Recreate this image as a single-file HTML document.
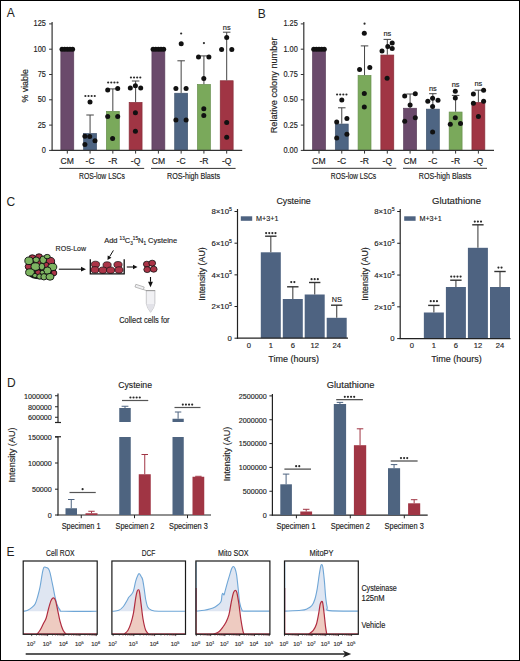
<!DOCTYPE html>
<html><head><meta charset="utf-8"><style>
html,body{margin:0;padding:0;background:#fff;}
#fig{position:relative;width:518px;height:659px;border:1px solid #000;overflow:hidden;background:#fff;}
svg{position:absolute;left:-1px;top:-1px;}
text{font-family:"Liberation Sans", sans-serif;stroke:#222;stroke-width:0.15px;}
</style></head><body><div id="fig">
<svg width="520" height="661" viewBox="0 0 520 661">
<rect x="60.85" y="49.55" width="12.90" height="100.85" fill="#6a4a6b" stroke="#5a3e5a" stroke-width="0.7"/>
<rect x="83.62" y="133.55" width="12.90" height="16.85" fill="#4e6583" stroke="#42556f" stroke-width="0.7"/>
<rect x="106.39" y="111.35" width="12.90" height="39.05" fill="#7aa95b" stroke="#678f4d" stroke-width="0.7"/>
<rect x="129.16" y="102.45" width="12.90" height="47.95" fill="#a03544" stroke="#882d39" stroke-width="0.7"/>
<rect x="151.93" y="49.55" width="12.90" height="100.85" fill="#6a4a6b" stroke="#5a3e5a" stroke-width="0.7"/>
<rect x="174.70" y="93.25" width="12.90" height="57.15" fill="#4e6583" stroke="#42556f" stroke-width="0.7"/>
<rect x="197.47" y="84.45" width="12.90" height="65.95" fill="#7aa95b" stroke="#678f4d" stroke-width="0.7"/>
<rect x="220.24" y="80.75" width="12.90" height="69.65" fill="#a03544" stroke="#882d39" stroke-width="0.7"/>
<line x1="90.07" y1="133.20" x2="90.07" y2="115.00" stroke="#444" stroke-width="1"/>
<line x1="86.32" y1="115.00" x2="93.82" y2="115.00" stroke="#444" stroke-width="1"/>
<line x1="112.84" y1="111.00" x2="112.84" y2="88.90" stroke="#444" stroke-width="1"/>
<line x1="109.09" y1="88.90" x2="116.59" y2="88.90" stroke="#444" stroke-width="1"/>
<line x1="135.61" y1="102.10" x2="135.61" y2="81.00" stroke="#444" stroke-width="1"/>
<line x1="131.86" y1="81.00" x2="139.36" y2="81.00" stroke="#444" stroke-width="1"/>
<line x1="181.15" y1="92.90" x2="181.15" y2="60.80" stroke="#444" stroke-width="1"/>
<line x1="177.40" y1="60.80" x2="184.90" y2="60.80" stroke="#444" stroke-width="1"/>
<line x1="203.92" y1="84.10" x2="203.92" y2="55.90" stroke="#444" stroke-width="1"/>
<line x1="200.17" y1="55.90" x2="207.67" y2="55.90" stroke="#444" stroke-width="1"/>
<line x1="226.69" y1="80.40" x2="226.69" y2="32.20" stroke="#444" stroke-width="1"/>
<line x1="222.94" y1="32.20" x2="230.44" y2="32.20" stroke="#444" stroke-width="1"/>
<circle cx="62.00" cy="49.30" r="2.5" fill="#111"/>
<circle cx="64.65" cy="49.30" r="2.5" fill="#111"/>
<circle cx="67.30" cy="49.30" r="2.5" fill="#111"/>
<circle cx="69.95" cy="49.30" r="2.5" fill="#111"/>
<circle cx="72.60" cy="49.30" r="2.5" fill="#111"/>
<circle cx="84.90" cy="136.20" r="2.5" fill="#111"/>
<circle cx="89.70" cy="136.60" r="2.5" fill="#111"/>
<circle cx="95.00" cy="140.80" r="2.5" fill="#111"/>
<circle cx="84.90" cy="144.60" r="2.5" fill="#111"/>
<circle cx="90.00" cy="102.00" r="2.5" fill="#111"/>
<circle cx="107.70" cy="90.10" r="2.5" fill="#111"/>
<circle cx="117.70" cy="88.50" r="2.5" fill="#111"/>
<circle cx="107.70" cy="116.50" r="2.5" fill="#111"/>
<circle cx="117.70" cy="116.50" r="2.5" fill="#111"/>
<circle cx="112.60" cy="138.50" r="2.5" fill="#111"/>
<circle cx="130.30" cy="87.90" r="2.5" fill="#111"/>
<circle cx="135.40" cy="85.70" r="2.5" fill="#111"/>
<circle cx="140.70" cy="87.90" r="2.5" fill="#111"/>
<circle cx="135.40" cy="112.70" r="2.5" fill="#111"/>
<circle cx="135.40" cy="131.20" r="2.5" fill="#111"/>
<circle cx="153.08" cy="49.30" r="2.5" fill="#111"/>
<circle cx="155.73" cy="49.30" r="2.5" fill="#111"/>
<circle cx="158.38" cy="49.30" r="2.5" fill="#111"/>
<circle cx="161.03" cy="49.30" r="2.5" fill="#111"/>
<circle cx="163.68" cy="49.30" r="2.5" fill="#111"/>
<circle cx="175.90" cy="88.40" r="2.5" fill="#111"/>
<circle cx="186.10" cy="88.40" r="2.5" fill="#111"/>
<circle cx="175.90" cy="119.90" r="2.5" fill="#111"/>
<circle cx="186.10" cy="119.90" r="2.5" fill="#111"/>
<circle cx="181.20" cy="43.70" r="2.5" fill="#111"/>
<circle cx="198.50" cy="56.90" r="2.5" fill="#111"/>
<circle cx="208.90" cy="56.90" r="2.5" fill="#111"/>
<circle cx="203.80" cy="78.50" r="2.5" fill="#111"/>
<circle cx="203.80" cy="108.70" r="2.5" fill="#111"/>
<circle cx="203.80" cy="115.60" r="2.5" fill="#111"/>
<circle cx="226.70" cy="37.60" r="2.5" fill="#111"/>
<circle cx="221.60" cy="49.60" r="2.5" fill="#111"/>
<circle cx="231.80" cy="49.60" r="2.5" fill="#111"/>
<circle cx="226.70" cy="122.40" r="2.5" fill="#111"/>
<circle cx="226.70" cy="137.30" r="2.5" fill="#111"/>
<line x1="52.10" y1="22.00" x2="52.10" y2="150.90" stroke="#333" stroke-width="1.2"/>
<line x1="51.50" y1="150.40" x2="242.20" y2="150.40" stroke="#333" stroke-width="1.2"/>
<line x1="49.10" y1="150.40" x2="52.10" y2="150.40" stroke="#333" stroke-width="1"/>
<text x="41.76" y="152.96" font-size="8.30" fill="#222" textLength="4.11" lengthAdjust="spacingAndGlyphs" >0</text>
<line x1="49.10" y1="125.10" x2="52.10" y2="125.10" stroke="#333" stroke-width="1"/>
<text x="37.70" y="127.66" font-size="8.30" fill="#222" textLength="8.22" lengthAdjust="spacingAndGlyphs" >25</text>
<line x1="49.10" y1="99.80" x2="52.10" y2="99.80" stroke="#333" stroke-width="1"/>
<text x="37.66" y="102.36" font-size="8.30" fill="#222" textLength="8.22" lengthAdjust="spacingAndGlyphs" >50</text>
<line x1="49.10" y1="74.50" x2="52.10" y2="74.50" stroke="#333" stroke-width="1"/>
<text x="37.70" y="77.02" font-size="8.30" fill="#222" textLength="8.22" lengthAdjust="spacingAndGlyphs" >75</text>
<line x1="49.10" y1="49.20" x2="52.10" y2="49.20" stroke="#333" stroke-width="1"/>
<text x="33.56" y="51.76" font-size="8.30" fill="#222" textLength="12.33" lengthAdjust="spacingAndGlyphs" >100</text>
<line x1="49.10" y1="23.90" x2="52.10" y2="23.90" stroke="#333" stroke-width="1"/>
<text x="33.60" y="26.46" font-size="8.30" fill="#222" textLength="12.33" lengthAdjust="spacingAndGlyphs" >125</text>
<line x1="67.30" y1="150.40" x2="67.30" y2="153.60" stroke="#333" stroke-width="1"/>
<line x1="90.07" y1="150.40" x2="90.07" y2="153.60" stroke="#333" stroke-width="1"/>
<line x1="112.84" y1="150.40" x2="112.84" y2="153.60" stroke="#333" stroke-width="1"/>
<line x1="135.61" y1="150.40" x2="135.61" y2="153.60" stroke="#333" stroke-width="1"/>
<line x1="158.38" y1="150.40" x2="158.38" y2="153.60" stroke="#333" stroke-width="1"/>
<line x1="181.15" y1="150.40" x2="181.15" y2="153.60" stroke="#333" stroke-width="1"/>
<line x1="203.92" y1="150.40" x2="203.92" y2="153.60" stroke="#333" stroke-width="1"/>
<line x1="226.69" y1="150.40" x2="226.69" y2="153.60" stroke="#333" stroke-width="1"/>
<text x="67.30" y="163.90" font-size="8.6" text-anchor="middle" fill="#222" >CM</text>
<text x="90.07" y="163.90" font-size="8.6" text-anchor="middle" fill="#222" >-C</text>
<text x="112.84" y="163.90" font-size="8.6" text-anchor="middle" fill="#222" >-R</text>
<text x="135.61" y="163.90" font-size="8.6" text-anchor="middle" fill="#222" >-Q</text>
<text x="158.38" y="163.90" font-size="8.6" text-anchor="middle" fill="#222" >CM</text>
<text x="181.15" y="163.90" font-size="8.6" text-anchor="middle" fill="#222" >-C</text>
<text x="203.92" y="163.90" font-size="8.6" text-anchor="middle" fill="#222" >-R</text>
<text x="226.69" y="163.90" font-size="8.6" text-anchor="middle" fill="#222" >-Q</text>
<line x1="59.40" y1="168.40" x2="144.20" y2="168.40" stroke="#333" stroke-width="1"/>
<text x="101.90" y="178.50" font-size="8.4" text-anchor="middle" fill="#222" textLength="45.8" lengthAdjust="spacingAndGlyphs">ROS-low LSCs</text>
<line x1="151.00" y1="168.40" x2="235.60" y2="168.40" stroke="#333" stroke-width="1"/>
<text x="193.50" y="178.50" font-size="8.4" text-anchor="middle" fill="#222" textLength="53.1" lengthAdjust="spacingAndGlyphs">ROS-high Blasts</text>
<circle cx="85.39" cy="96.00" r="1.08" fill="#2a2a2a"/>
<circle cx="88.51" cy="96.00" r="1.08" fill="#2a2a2a"/>
<circle cx="91.63" cy="96.00" r="1.08" fill="#2a2a2a"/>
<circle cx="94.75" cy="96.00" r="1.08" fill="#2a2a2a"/>
<circle cx="108.16" cy="82.50" r="1.08" fill="#2a2a2a"/>
<circle cx="111.28" cy="82.50" r="1.08" fill="#2a2a2a"/>
<circle cx="114.40" cy="82.50" r="1.08" fill="#2a2a2a"/>
<circle cx="117.52" cy="82.50" r="1.08" fill="#2a2a2a"/>
<circle cx="130.93" cy="77.50" r="1.08" fill="#2a2a2a"/>
<circle cx="134.05" cy="77.50" r="1.08" fill="#2a2a2a"/>
<circle cx="137.17" cy="77.50" r="1.08" fill="#2a2a2a"/>
<circle cx="140.29" cy="77.50" r="1.08" fill="#2a2a2a"/>
<circle cx="181.15" cy="33.50" r="1.08" fill="#2a2a2a"/>
<circle cx="203.92" cy="43.10" r="1.08" fill="#2a2a2a"/>
<text x="226.69" y="29.60" font-size="7.4" text-anchor="middle" fill="#222" >ns</text>
<text transform="translate(27.80,85.90) rotate(-90)" font-size="9" text-anchor="middle" fill="#222" textLength="33.4" lengthAdjust="spacingAndGlyphs">% viable</text>
<rect x="312.55" y="49.55" width="12.90" height="100.85" fill="#6a4a6b" stroke="#5a3e5a" stroke-width="0.7"/>
<rect x="335.32" y="124.05" width="12.90" height="26.35" fill="#4e6583" stroke="#42556f" stroke-width="0.7"/>
<rect x="358.09" y="75.45" width="12.90" height="74.95" fill="#7aa95b" stroke="#678f4d" stroke-width="0.7"/>
<rect x="380.86" y="55.05" width="12.90" height="95.35" fill="#a03544" stroke="#882d39" stroke-width="0.7"/>
<rect x="403.63" y="108.25" width="12.90" height="42.15" fill="#6a4a6b" stroke="#5a3e5a" stroke-width="0.7"/>
<rect x="426.40" y="109.15" width="12.90" height="41.25" fill="#4e6583" stroke="#42556f" stroke-width="0.7"/>
<rect x="449.17" y="112.05" width="12.90" height="38.35" fill="#7aa95b" stroke="#678f4d" stroke-width="0.7"/>
<rect x="471.94" y="102.45" width="12.90" height="47.95" fill="#a03544" stroke="#882d39" stroke-width="0.7"/>
<line x1="341.77" y1="123.70" x2="341.77" y2="107.80" stroke="#444" stroke-width="1"/>
<line x1="338.02" y1="107.80" x2="345.52" y2="107.80" stroke="#444" stroke-width="1"/>
<line x1="364.54" y1="75.10" x2="364.54" y2="45.90" stroke="#444" stroke-width="1"/>
<line x1="360.79" y1="45.90" x2="368.29" y2="45.90" stroke="#444" stroke-width="1"/>
<line x1="387.31" y1="54.70" x2="387.31" y2="39.40" stroke="#444" stroke-width="1"/>
<line x1="383.56" y1="39.40" x2="391.06" y2="39.40" stroke="#444" stroke-width="1"/>
<line x1="410.08" y1="107.90" x2="410.08" y2="94.00" stroke="#444" stroke-width="1"/>
<line x1="406.33" y1="94.00" x2="413.83" y2="94.00" stroke="#444" stroke-width="1"/>
<line x1="432.85" y1="108.80" x2="432.85" y2="93.70" stroke="#444" stroke-width="1"/>
<line x1="429.10" y1="93.70" x2="436.60" y2="93.70" stroke="#444" stroke-width="1"/>
<line x1="455.62" y1="111.70" x2="455.62" y2="95.40" stroke="#444" stroke-width="1"/>
<line x1="451.87" y1="95.40" x2="459.37" y2="95.40" stroke="#444" stroke-width="1"/>
<line x1="478.39" y1="102.10" x2="478.39" y2="90.20" stroke="#444" stroke-width="1"/>
<line x1="474.64" y1="90.20" x2="482.14" y2="90.20" stroke="#444" stroke-width="1"/>
<circle cx="313.70" cy="49.30" r="2.5" fill="#111"/>
<circle cx="316.35" cy="49.30" r="2.5" fill="#111"/>
<circle cx="319.00" cy="49.30" r="2.5" fill="#111"/>
<circle cx="321.65" cy="49.30" r="2.5" fill="#111"/>
<circle cx="324.30" cy="49.30" r="2.5" fill="#111"/>
<circle cx="341.80" cy="100.00" r="2.5" fill="#111"/>
<circle cx="336.70" cy="122.00" r="2.5" fill="#111"/>
<circle cx="346.90" cy="118.40" r="2.5" fill="#111"/>
<circle cx="346.90" cy="134.30" r="2.5" fill="#111"/>
<circle cx="336.70" cy="138.00" r="2.5" fill="#111"/>
<circle cx="364.30" cy="33.30" r="2.5" fill="#111"/>
<circle cx="359.60" cy="69.40" r="2.5" fill="#111"/>
<circle cx="369.80" cy="67.60" r="2.5" fill="#111"/>
<circle cx="364.30" cy="93.50" r="2.5" fill="#111"/>
<circle cx="364.30" cy="107.10" r="2.5" fill="#111"/>
<circle cx="382.00" cy="51.00" r="2.5" fill="#111"/>
<circle cx="387.80" cy="46.50" r="2.5" fill="#111"/>
<circle cx="392.20" cy="43.00" r="2.5" fill="#111"/>
<circle cx="392.20" cy="48.60" r="2.5" fill="#111"/>
<circle cx="387.10" cy="78.20" r="2.5" fill="#111"/>
<circle cx="404.70" cy="96.00" r="2.5" fill="#111"/>
<circle cx="415.30" cy="93.70" r="2.5" fill="#111"/>
<circle cx="410.10" cy="105.00" r="2.5" fill="#111"/>
<circle cx="404.70" cy="121.30" r="2.5" fill="#111"/>
<circle cx="415.30" cy="117.70" r="2.5" fill="#111"/>
<circle cx="427.80" cy="101.30" r="2.5" fill="#111"/>
<circle cx="432.60" cy="98.30" r="2.5" fill="#111"/>
<circle cx="438.00" cy="100.20" r="2.5" fill="#111"/>
<circle cx="432.60" cy="106.50" r="2.5" fill="#111"/>
<circle cx="432.60" cy="132.10" r="2.5" fill="#111"/>
<circle cx="455.30" cy="91.20" r="2.5" fill="#111"/>
<circle cx="455.30" cy="97.90" r="2.5" fill="#111"/>
<circle cx="455.30" cy="117.70" r="2.5" fill="#111"/>
<circle cx="450.30" cy="124.20" r="2.5" fill="#111"/>
<circle cx="460.50" cy="123.50" r="2.5" fill="#111"/>
<circle cx="473.40" cy="94.00" r="2.5" fill="#111"/>
<circle cx="483.60" cy="90.20" r="2.5" fill="#111"/>
<circle cx="473.40" cy="103.30" r="2.5" fill="#111"/>
<circle cx="483.60" cy="101.20" r="2.5" fill="#111"/>
<circle cx="478.40" cy="116.50" r="2.5" fill="#111"/>
<line x1="303.80" y1="22.00" x2="303.80" y2="150.90" stroke="#333" stroke-width="1.2"/>
<line x1="303.20" y1="150.40" x2="494.00" y2="150.40" stroke="#333" stroke-width="1.2"/>
<line x1="300.80" y1="150.40" x2="303.80" y2="150.40" stroke="#333" stroke-width="1"/>
<text x="283.39" y="152.96" font-size="8.30" fill="#222" textLength="14.38" lengthAdjust="spacingAndGlyphs" >0.00</text>
<line x1="300.80" y1="125.10" x2="303.80" y2="125.10" stroke="#333" stroke-width="1"/>
<text x="283.43" y="127.66" font-size="8.30" fill="#222" textLength="14.38" lengthAdjust="spacingAndGlyphs" >0.25</text>
<line x1="300.80" y1="99.80" x2="303.80" y2="99.80" stroke="#333" stroke-width="1"/>
<text x="283.39" y="102.36" font-size="8.30" fill="#222" textLength="14.38" lengthAdjust="spacingAndGlyphs" >0.50</text>
<line x1="300.80" y1="74.50" x2="303.80" y2="74.50" stroke="#333" stroke-width="1"/>
<text x="283.43" y="77.06" font-size="8.30" fill="#222" textLength="14.38" lengthAdjust="spacingAndGlyphs" >0.75</text>
<line x1="300.80" y1="49.20" x2="303.80" y2="49.20" stroke="#333" stroke-width="1"/>
<text x="283.39" y="51.76" font-size="8.30" fill="#222" textLength="14.38" lengthAdjust="spacingAndGlyphs" >1.00</text>
<line x1="300.80" y1="23.90" x2="303.80" y2="23.90" stroke="#333" stroke-width="1"/>
<text x="283.43" y="26.46" font-size="8.30" fill="#222" textLength="14.38" lengthAdjust="spacingAndGlyphs" >1.25</text>
<line x1="319.00" y1="150.40" x2="319.00" y2="153.60" stroke="#333" stroke-width="1"/>
<line x1="341.77" y1="150.40" x2="341.77" y2="153.60" stroke="#333" stroke-width="1"/>
<line x1="364.54" y1="150.40" x2="364.54" y2="153.60" stroke="#333" stroke-width="1"/>
<line x1="387.31" y1="150.40" x2="387.31" y2="153.60" stroke="#333" stroke-width="1"/>
<line x1="410.08" y1="150.40" x2="410.08" y2="153.60" stroke="#333" stroke-width="1"/>
<line x1="432.85" y1="150.40" x2="432.85" y2="153.60" stroke="#333" stroke-width="1"/>
<line x1="455.62" y1="150.40" x2="455.62" y2="153.60" stroke="#333" stroke-width="1"/>
<line x1="478.39" y1="150.40" x2="478.39" y2="153.60" stroke="#333" stroke-width="1"/>
<text x="319.00" y="163.90" font-size="8.6" text-anchor="middle" fill="#222" >CM</text>
<text x="341.77" y="163.90" font-size="8.6" text-anchor="middle" fill="#222" >-C</text>
<text x="364.54" y="163.90" font-size="8.6" text-anchor="middle" fill="#222" >-R</text>
<text x="387.31" y="163.90" font-size="8.6" text-anchor="middle" fill="#222" >-Q</text>
<text x="410.08" y="163.90" font-size="8.6" text-anchor="middle" fill="#222" >CM</text>
<text x="432.85" y="163.90" font-size="8.6" text-anchor="middle" fill="#222" >-C</text>
<text x="455.62" y="163.90" font-size="8.6" text-anchor="middle" fill="#222" >-R</text>
<text x="478.39" y="163.90" font-size="8.6" text-anchor="middle" fill="#222" >-Q</text>
<line x1="311.60" y1="168.30" x2="396.30" y2="168.30" stroke="#333" stroke-width="1"/>
<text x="353.50" y="178.50" font-size="8.4" text-anchor="middle" fill="#222" textLength="45.5" lengthAdjust="spacingAndGlyphs">ROS-low LSCs</text>
<line x1="403.00" y1="168.30" x2="487.00" y2="168.30" stroke="#333" stroke-width="1"/>
<text x="445.00" y="178.50" font-size="8.4" text-anchor="middle" fill="#222" textLength="52.5" lengthAdjust="spacingAndGlyphs">ROS-high Blasts</text>
<circle cx="337.09" cy="94.50" r="1.08" fill="#2a2a2a"/>
<circle cx="340.21" cy="94.50" r="1.08" fill="#2a2a2a"/>
<circle cx="343.33" cy="94.50" r="1.08" fill="#2a2a2a"/>
<circle cx="346.45" cy="94.50" r="1.08" fill="#2a2a2a"/>
<circle cx="364.54" cy="23.70" r="1.08" fill="#2a2a2a"/>
<text x="387.31" y="36.30" font-size="7.4" text-anchor="middle" fill="#222" >ns</text>
<text x="432.85" y="91.20" font-size="7.4" text-anchor="middle" fill="#222" >ns</text>
<text x="455.62" y="86.90" font-size="7.4" text-anchor="middle" fill="#222" >ns</text>
<text x="478.39" y="85.80" font-size="7.4" text-anchor="middle" fill="#222" >ns</text>
<text transform="translate(277.00,85.40) rotate(-90)" font-size="9" text-anchor="middle" fill="#222" textLength="95.7" lengthAdjust="spacingAndGlyphs">Relative colony number</text>
<path d="M27.5,259.5 Q31,256 40,256 Q49,255.5 53,259 Q56,263 56,270 Q56,276 51.5,278.8 Q44,280 36,279 Q28.5,278 26.5,272 Q25.5,265 27.5,259.5 Z" fill="#1a1a1a"/>
<ellipse cx="32.30" cy="257.60" rx="3.4" ry="2.8" fill="#ab3447" stroke="#111" stroke-width="0.9"/>
<ellipse cx="39.00" cy="256.40" rx="3.4" ry="2.6" fill="#ab3447" stroke="#111" stroke-width="0.9"/>
<ellipse cx="38.10" cy="261.60" rx="4.4" ry="2.8" fill="#ab3447" stroke="#111" stroke-width="0.9"/>
<ellipse cx="50.40" cy="261.40" rx="4.2" ry="4.0" fill="#ab3447" stroke="#111" stroke-width="0.9"/>
<ellipse cx="28.60" cy="266.60" rx="3.4" ry="3.2" fill="#ab3447" stroke="#111" stroke-width="0.9"/>
<ellipse cx="46.20" cy="265.00" rx="2.8" ry="2.6" fill="#ab3447" stroke="#111" stroke-width="0.9"/>
<ellipse cx="38.50" cy="272.70" rx="3.2" ry="2.8" fill="#ab3447" stroke="#111" stroke-width="0.9"/>
<ellipse cx="54.00" cy="273.00" rx="2.8" ry="2.8" fill="#ab3447" stroke="#111" stroke-width="0.9"/>
<ellipse cx="29.00" cy="260.80" rx="4.2" ry="3.8" fill="#7db461" stroke="#111" stroke-width="0.9"/>
<ellipse cx="36.20" cy="259.80" rx="3.2" ry="2.8" fill="#7db461" stroke="#111" stroke-width="0.9"/>
<ellipse cx="43.20" cy="259.80" rx="3.4" ry="3.8" fill="#7db461" stroke="#111" stroke-width="0.9"/>
<ellipse cx="47.20" cy="256.60" rx="3.0" ry="2.2" fill="#7db461" stroke="#111" stroke-width="0.9"/>
<ellipse cx="35.40" cy="266.60" rx="4.4" ry="3.8" fill="#7db461" stroke="#111" stroke-width="0.9"/>
<ellipse cx="41.90" cy="266.60" rx="2.8" ry="3.4" fill="#7db461" stroke="#111" stroke-width="0.9"/>
<ellipse cx="52.40" cy="267.00" rx="4.4" ry="3.6" fill="#7db461" stroke="#111" stroke-width="0.9"/>
<ellipse cx="30.00" cy="272.40" rx="4.4" ry="3.6" fill="#7db461" stroke="#111" stroke-width="0.9"/>
<ellipse cx="47.40" cy="270.60" rx="3.8" ry="3.6" fill="#7db461" stroke="#111" stroke-width="0.9"/>
<ellipse cx="42.30" cy="272.40" rx="2.2" ry="2.0" fill="#7db461" stroke="#111" stroke-width="0.9"/>
<ellipse cx="35.00" cy="275.60" rx="2.4" ry="2.2" fill="#7db461" stroke="#111" stroke-width="0.9"/>
<ellipse cx="39.60" cy="276.50" rx="2.8" ry="2.6" fill="#7db461" stroke="#111" stroke-width="0.9"/>
<ellipse cx="43.90" cy="276.80" rx="3.0" ry="3.2" fill="#7db461" stroke="#111" stroke-width="0.9"/>
<ellipse cx="50.00" cy="276.80" rx="4.0" ry="3.4" fill="#7db461" stroke="#111" stroke-width="0.9"/>
<line x1="58.80" y1="269.20" x2="81.00" y2="269.20" stroke="#111" stroke-width="1.1"/>
<polygon points="86.00,269.20 81.00,271.60 81.00,266.80" fill="#111"/>
<text x="55.60" y="251.00" font-size="8" text-anchor="start" fill="#222" textLength="30.5" lengthAdjust="spacingAndGlyphs">ROS-Low</text>
<ellipse cx="95.50" cy="264.40" rx="4.1" ry="3.2" fill="#ab3447" stroke="#111" stroke-width="0.7"/>
<ellipse cx="107.10" cy="265.00" rx="4.1" ry="3.2" fill="#ab3447" stroke="#111" stroke-width="0.7"/>
<ellipse cx="118.00" cy="264.70" rx="4.1" ry="3.2" fill="#ab3447" stroke="#111" stroke-width="0.7"/>
<ellipse cx="95.00" cy="269.80" rx="4.1" ry="3.2" fill="#ab3447" stroke="#111" stroke-width="0.7"/>
<ellipse cx="102.90" cy="270.20" rx="4.1" ry="3.2" fill="#ab3447" stroke="#111" stroke-width="0.7"/>
<ellipse cx="110.60" cy="270.20" rx="4.1" ry="3.2" fill="#ab3447" stroke="#111" stroke-width="0.7"/>
<ellipse cx="119.00" cy="270.00" rx="4.1" ry="3.2" fill="#ab3447" stroke="#111" stroke-width="0.7"/>
<polyline points="90.3,259.2 90.3,273.8 124.2,273.8 124.2,259.2" fill="none" stroke="#111" stroke-width="1.3"/>
<line x1="113.40" y1="250.40" x2="109.58" y2="256.68" stroke="#111" stroke-width="1.0"/>
<polygon points="107.50,260.10 107.70,255.54 111.46,257.83" fill="#111"/>
<line x1="126.80" y1="267.00" x2="133.00" y2="267.00" stroke="#111" stroke-width="1.1"/>
<polygon points="137.50,267.00 133.00,269.20 133.00,264.80" fill="#111"/>
<ellipse cx="146.80" cy="264.20" rx="3.4" ry="3.0" fill="#ab3447" stroke="#111" stroke-width="0.8"/>
<ellipse cx="152.20" cy="263.20" rx="3.4" ry="3.0" fill="#ab3447" stroke="#111" stroke-width="0.8"/>
<ellipse cx="147.20" cy="269.60" rx="3.4" ry="3.0" fill="#ab3447" stroke="#111" stroke-width="0.8"/>
<ellipse cx="153.70" cy="269.20" rx="3.4" ry="3.0" fill="#ab3447" stroke="#111" stroke-width="0.8"/>
<line x1="150.50" y1="277.00" x2="150.50" y2="281.80" stroke="#111" stroke-width="1.1"/>
<polygon points="150.50,287.30 148.10,281.80 152.90,281.80" fill="#111"/>
<path d="M146.3,290.6 L154.9,290.6 L154.9,303.5 Q154.2,308 150.6,312.3 Q147.0,308 146.3,303.5 Z" fill="#f1f1f4" stroke="#b4b4b8" stroke-width="0.7"/>
<path d="M146.6,304 L154.6,304 Q153.8,308.5 150.6,312 Q147.4,308.5 146.6,304 Z" fill="#e2e2e8"/>
<line x1="146" y1="290.6" x2="155.2" y2="290.6" stroke="#999" stroke-width="1"/>
<rect x="135.2" y="285.6" width="8.8" height="2.8" fill="#f0f0f2" stroke="#999" stroke-width="0.6" transform="rotate(18 139.6 287)"/>
<line x1="143.6" y1="289.6" x2="146.3" y2="290.6" stroke="#999" stroke-width="0.7"/>
<text x="104.20" y="243.30" font-size="8" text-anchor="start" fill="#222" textLength="73" lengthAdjust="spacingAndGlyphs">Add <tspan font-size="5" dy="-3">13</tspan><tspan dy="3">C</tspan><tspan font-size="5" dy="2">3</tspan><tspan font-size="5" dy="-5">15</tspan><tspan dy="3">N</tspan><tspan font-size="5" dy="2">1</tspan><tspan dy="-2"> Cysteine</tspan></text>
<text x="119.20" y="322.80" font-size="9" text-anchor="start" fill="#222" textLength="50.4" lengthAdjust="spacingAndGlyphs">Collect cells for</text>
<rect x="260.80" y="252.30" width="20.00" height="85.90" fill="#4e6381"/>
<rect x="282.80" y="299.00" width="20.00" height="39.20" fill="#4e6381"/>
<rect x="304.70" y="294.50" width="20.00" height="43.70" fill="#4e6381"/>
<rect x="326.70" y="317.80" width="20.00" height="20.40" fill="#4e6381"/>
<line x1="270.80" y1="252.30" x2="270.80" y2="236.20" stroke="#555" stroke-width="1.2"/>
<line x1="265.10" y1="236.20" x2="276.50" y2="236.20" stroke="#333" stroke-width="1.4"/>
<line x1="292.80" y1="299.00" x2="292.80" y2="286.80" stroke="#555" stroke-width="1.2"/>
<line x1="287.10" y1="286.80" x2="298.50" y2="286.80" stroke="#333" stroke-width="1.4"/>
<line x1="314.70" y1="294.50" x2="314.70" y2="282.50" stroke="#555" stroke-width="1.2"/>
<line x1="309.00" y1="282.50" x2="320.40" y2="282.50" stroke="#333" stroke-width="1.4"/>
<line x1="336.70" y1="317.80" x2="336.70" y2="305.20" stroke="#555" stroke-width="1.2"/>
<line x1="331.00" y1="305.20" x2="342.40" y2="305.20" stroke="#333" stroke-width="1.4"/>
<line x1="237.50" y1="209.00" x2="237.50" y2="338.70" stroke="#222" stroke-width="1.2"/>
<line x1="236.90" y1="338.20" x2="348.00" y2="338.20" stroke="#222" stroke-width="1.2"/>
<line x1="234.50" y1="338.20" x2="237.50" y2="338.20" stroke="#222" stroke-width="1"/>
<text x="231.90" y="340.95" font-size="7.8" text-anchor="end" fill="#222" >0</text>
<line x1="234.50" y1="306.52" x2="237.50" y2="306.52" stroke="#222" stroke-width="1"/>
<text x="231.90" y="309.27" font-size="7.8" text-anchor="end" fill="#222" >2×10<tspan font-size="5.2" dy="-3.3">5</tspan></text>
<line x1="234.50" y1="274.85" x2="237.50" y2="274.85" stroke="#222" stroke-width="1"/>
<text x="231.90" y="277.60" font-size="7.8" text-anchor="end" fill="#222" >4×10<tspan font-size="5.2" dy="-3.3">5</tspan></text>
<line x1="234.50" y1="243.18" x2="237.50" y2="243.18" stroke="#222" stroke-width="1"/>
<text x="231.90" y="245.93" font-size="7.8" text-anchor="end" fill="#222" >6×10<tspan font-size="5.2" dy="-3.3">5</tspan></text>
<line x1="234.50" y1="211.50" x2="237.50" y2="211.50" stroke="#222" stroke-width="1"/>
<text x="231.90" y="214.25" font-size="7.8" text-anchor="end" fill="#222" >8×10<tspan font-size="5.2" dy="-3.3">5</tspan></text>
<text x="248.80" y="348.40" font-size="7.6" text-anchor="middle" fill="#222" >0</text>
<text x="270.80" y="348.40" font-size="7.6" text-anchor="middle" fill="#222" >1</text>
<text x="292.80" y="348.40" font-size="7.6" text-anchor="middle" fill="#222" >6</text>
<text x="314.70" y="348.40" font-size="7.6" text-anchor="middle" fill="#222" >12</text>
<text x="336.70" y="348.40" font-size="7.6" text-anchor="middle" fill="#222" >24</text>
<text x="293.60" y="362.30" font-size="9" text-anchor="middle" fill="#222" >Time (hours)</text>
<text x="293.60" y="203.60" font-size="9.8" text-anchor="middle" fill="#222" textLength="34.3" lengthAdjust="spacingAndGlyphs">Cysteine</text>
<rect x="240.80" y="216.30" width="11.40" height="4.50" fill="#4e6381"/>
<text x="256.00" y="220.90" font-size="7.2" text-anchor="start" fill="#222" >M+3+1</text>
<circle cx="266.12" cy="233.10" r="1.08" fill="#2a2a2a"/>
<circle cx="269.24" cy="233.10" r="1.08" fill="#2a2a2a"/>
<circle cx="272.36" cy="233.10" r="1.08" fill="#2a2a2a"/>
<circle cx="275.48" cy="233.10" r="1.08" fill="#2a2a2a"/>
<circle cx="291.24" cy="282.10" r="1.08" fill="#2a2a2a"/>
<circle cx="294.36" cy="282.10" r="1.08" fill="#2a2a2a"/>
<circle cx="311.58" cy="279.20" r="1.08" fill="#2a2a2a"/>
<circle cx="314.70" cy="279.20" r="1.08" fill="#2a2a2a"/>
<circle cx="317.82" cy="279.20" r="1.08" fill="#2a2a2a"/>
<text x="336.70" y="302.30" font-size="7.2" text-anchor="middle" fill="#222" >NS</text>
<text transform="translate(205.20,274.0) rotate(-90)" font-size="9" text-anchor="middle" fill="#222" textLength="53.4" lengthAdjust="spacingAndGlyphs">Intensity (AU)</text>
<rect x="423.85" y="312.50" width="20.00" height="26.10" fill="#4e6381"/>
<rect x="445.90" y="287.00" width="20.00" height="51.60" fill="#4e6381"/>
<rect x="467.90" y="247.80" width="20.00" height="90.80" fill="#4e6381"/>
<rect x="490.00" y="287.00" width="20.00" height="51.60" fill="#4e6381"/>
<line x1="433.85" y1="312.50" x2="433.85" y2="305.40" stroke="#555" stroke-width="1.2"/>
<line x1="428.15" y1="305.40" x2="439.55" y2="305.40" stroke="#333" stroke-width="1.4"/>
<line x1="455.90" y1="287.00" x2="455.90" y2="280.20" stroke="#555" stroke-width="1.2"/>
<line x1="450.20" y1="280.20" x2="461.60" y2="280.20" stroke="#333" stroke-width="1.4"/>
<line x1="477.90" y1="247.80" x2="477.90" y2="224.80" stroke="#555" stroke-width="1.2"/>
<line x1="472.20" y1="224.80" x2="483.60" y2="224.80" stroke="#333" stroke-width="1.4"/>
<line x1="500.00" y1="287.00" x2="500.00" y2="271.50" stroke="#555" stroke-width="1.2"/>
<line x1="494.30" y1="271.50" x2="505.70" y2="271.50" stroke="#333" stroke-width="1.4"/>
<line x1="400.20" y1="209.00" x2="400.20" y2="339.10" stroke="#222" stroke-width="1.2"/>
<line x1="399.60" y1="338.60" x2="510.50" y2="338.60" stroke="#222" stroke-width="1.2"/>
<line x1="397.20" y1="338.60" x2="400.20" y2="338.60" stroke="#222" stroke-width="1"/>
<text x="394.60" y="341.35" font-size="7.8" text-anchor="end" fill="#222" >0</text>
<line x1="397.20" y1="306.83" x2="400.20" y2="306.83" stroke="#222" stroke-width="1"/>
<text x="394.60" y="309.58" font-size="7.8" text-anchor="end" fill="#222" >2×10<tspan font-size="5.2" dy="-3.3">5</tspan></text>
<line x1="397.20" y1="275.05" x2="400.20" y2="275.05" stroke="#222" stroke-width="1"/>
<text x="394.60" y="277.80" font-size="7.8" text-anchor="end" fill="#222" >4×10<tspan font-size="5.2" dy="-3.3">5</tspan></text>
<line x1="397.20" y1="243.28" x2="400.20" y2="243.28" stroke="#222" stroke-width="1"/>
<text x="394.60" y="246.03" font-size="7.8" text-anchor="end" fill="#222" >6×10<tspan font-size="5.2" dy="-3.3">5</tspan></text>
<line x1="397.20" y1="211.50" x2="400.20" y2="211.50" stroke="#222" stroke-width="1"/>
<text x="394.60" y="214.25" font-size="7.8" text-anchor="end" fill="#222" >8×10<tspan font-size="5.2" dy="-3.3">5</tspan></text>
<text x="411.80" y="348.40" font-size="7.6" text-anchor="middle" fill="#222" >0</text>
<text x="433.85" y="348.40" font-size="7.6" text-anchor="middle" fill="#222" >1</text>
<text x="455.90" y="348.40" font-size="7.6" text-anchor="middle" fill="#222" >6</text>
<text x="477.90" y="348.40" font-size="7.6" text-anchor="middle" fill="#222" >12</text>
<text x="500.00" y="348.40" font-size="7.6" text-anchor="middle" fill="#222" >24</text>
<text x="456.50" y="362.30" font-size="9" text-anchor="middle" fill="#222" >Time (hours)</text>
<text x="456.50" y="203.60" font-size="9.8" text-anchor="middle" fill="#222" textLength="49.0" lengthAdjust="spacingAndGlyphs">Glutathione</text>
<rect x="404.20" y="216.30" width="11.40" height="4.50" fill="#4e6381"/>
<text x="419.40" y="220.90" font-size="7.2" text-anchor="start" fill="#222" >M+3+1</text>
<circle cx="430.73" cy="301.20" r="1.08" fill="#2a2a2a"/>
<circle cx="433.85" cy="301.20" r="1.08" fill="#2a2a2a"/>
<circle cx="436.97" cy="301.20" r="1.08" fill="#2a2a2a"/>
<circle cx="451.22" cy="276.60" r="1.08" fill="#2a2a2a"/>
<circle cx="454.34" cy="276.60" r="1.08" fill="#2a2a2a"/>
<circle cx="457.46" cy="276.60" r="1.08" fill="#2a2a2a"/>
<circle cx="460.58" cy="276.60" r="1.08" fill="#2a2a2a"/>
<circle cx="474.78" cy="221.60" r="1.08" fill="#2a2a2a"/>
<circle cx="477.90" cy="221.60" r="1.08" fill="#2a2a2a"/>
<circle cx="481.02" cy="221.60" r="1.08" fill="#2a2a2a"/>
<circle cx="498.44" cy="267.60" r="1.08" fill="#2a2a2a"/>
<circle cx="501.56" cy="267.60" r="1.08" fill="#2a2a2a"/>
<text transform="translate(367.90,274.0) rotate(-90)" font-size="9" text-anchor="middle" fill="#222" textLength="53.4" lengthAdjust="spacingAndGlyphs">Intensity (AU)</text>
<line x1="58.00" y1="393.60" x2="58.00" y2="422.50" stroke="#222" stroke-width="1.2"/>
<line x1="55.00" y1="422.50" x2="61.00" y2="422.50" stroke="#222" stroke-width="1.2"/>
<line x1="55.00" y1="395.75" x2="58.00" y2="395.75" stroke="#222" stroke-width="1"/>
<text x="23.94" y="398.54" font-size="7.80" fill="#222" textLength="27.94" lengthAdjust="spacingAndGlyphs" >1000000</text>
<line x1="55.00" y1="406.75" x2="58.00" y2="406.75" stroke="#222" stroke-width="1"/>
<text x="27.92" y="409.54" font-size="7.80" fill="#222" textLength="23.95" lengthAdjust="spacingAndGlyphs" >800000</text>
<line x1="55.00" y1="417.25" x2="58.00" y2="417.25" stroke="#222" stroke-width="1"/>
<text x="27.92" y="420.04" font-size="7.80" fill="#222" textLength="23.95" lengthAdjust="spacingAndGlyphs" >600000</text>
<line x1="58.00" y1="436.75" x2="58.00" y2="515.50" stroke="#222" stroke-width="1.2"/>
<line x1="55.00" y1="436.75" x2="61.00" y2="436.75" stroke="#222" stroke-width="1.2"/>
<line x1="55.00" y1="437.00" x2="58.00" y2="437.00" stroke="#222" stroke-width="1"/>
<text x="27.92" y="439.79" font-size="7.80" fill="#222" textLength="23.95" lengthAdjust="spacingAndGlyphs" >150000</text>
<line x1="55.00" y1="463.00" x2="58.00" y2="463.00" stroke="#222" stroke-width="1"/>
<text x="27.92" y="465.79" font-size="7.80" fill="#222" textLength="23.95" lengthAdjust="spacingAndGlyphs" >100000</text>
<line x1="55.00" y1="489.20" x2="58.00" y2="489.20" stroke="#222" stroke-width="1"/>
<text x="31.90" y="491.99" font-size="7.80" fill="#222" textLength="19.96" lengthAdjust="spacingAndGlyphs" >50000</text>
<line x1="55.00" y1="515.00" x2="58.00" y2="515.00" stroke="#222" stroke-width="1"/>
<text x="47.87" y="517.79" font-size="7.80" fill="#222" textLength="3.99" lengthAdjust="spacingAndGlyphs" >0</text>
<line x1="57.40" y1="515.00" x2="211.00" y2="515.00" stroke="#222" stroke-width="1.2"/>
<rect x="65.50" y="508.25" width="11.50" height="6.75" fill="#4e6480"/>
<line x1="71.25" y1="508.25" x2="71.25" y2="499.50" stroke="#4e6480" stroke-width="1"/>
<line x1="68.00" y1="499.50" x2="74.50" y2="499.50" stroke="#4e6480" stroke-width="1"/>
<rect x="85.50" y="513.25" width="12.00" height="1.75" fill="#a03544"/>
<line x1="91.50" y1="513.25" x2="91.50" y2="511.25" stroke="#a03544" stroke-width="1"/>
<line x1="88.30" y1="511.25" x2="94.70" y2="511.25" stroke="#a03544" stroke-width="1"/>
<line x1="69.50" y1="492.50" x2="95.75" y2="492.50" stroke="#555" stroke-width="1.2"/>
<circle cx="82.60" cy="489.20" r="1.08" fill="#2a2a2a"/>
<rect x="119.25" y="408.00" width="11.50" height="14.00" fill="#4e6480"/>
<rect x="119.25" y="437.00" width="11.50" height="78.00" fill="#4e6480"/>
<line x1="125.00" y1="408.00" x2="125.00" y2="406.25" stroke="#4e6480" stroke-width="1"/>
<line x1="121.60" y1="406.25" x2="128.40" y2="406.25" stroke="#4e6480" stroke-width="1"/>
<rect x="138.75" y="474.25" width="12.00" height="40.75" fill="#a03544"/>
<line x1="144.75" y1="474.25" x2="144.75" y2="454.50" stroke="#a03544" stroke-width="1"/>
<line x1="141.50" y1="454.50" x2="148.00" y2="454.50" stroke="#a03544" stroke-width="1"/>
<line x1="122.00" y1="400.50" x2="148.25" y2="400.50" stroke="#555" stroke-width="1.2"/>
<circle cx="130.42" cy="397.50" r="1.08" fill="#2a2a2a"/>
<circle cx="133.54" cy="397.50" r="1.08" fill="#2a2a2a"/>
<circle cx="136.66" cy="397.50" r="1.08" fill="#2a2a2a"/>
<circle cx="139.78" cy="397.50" r="1.08" fill="#2a2a2a"/>
<rect x="172.50" y="418.75" width="11.25" height="3.25" fill="#4e6480"/>
<rect x="172.50" y="437.00" width="11.25" height="78.00" fill="#4e6480"/>
<line x1="178.10" y1="418.75" x2="178.10" y2="412.00" stroke="#4e6480" stroke-width="1"/>
<line x1="174.90" y1="412.00" x2="181.30" y2="412.00" stroke="#4e6480" stroke-width="1"/>
<rect x="192.50" y="476.75" width="11.75" height="38.25" fill="#a03544"/>
<line x1="195.20" y1="476.30" x2="201.60" y2="476.30" stroke="#a03544" stroke-width="1"/>
<line x1="174.50" y1="407.50" x2="200.50" y2="407.50" stroke="#555" stroke-width="1.2"/>
<circle cx="182.82" cy="404.60" r="1.08" fill="#2a2a2a"/>
<circle cx="185.94" cy="404.60" r="1.08" fill="#2a2a2a"/>
<circle cx="189.06" cy="404.60" r="1.08" fill="#2a2a2a"/>
<circle cx="192.18" cy="404.60" r="1.08" fill="#2a2a2a"/>
<line x1="81.25" y1="515.00" x2="81.25" y2="518.20" stroke="#222" stroke-width="1"/>
<line x1="134.50" y1="515.00" x2="134.50" y2="518.20" stroke="#222" stroke-width="1"/>
<line x1="187.50" y1="515.00" x2="187.50" y2="518.20" stroke="#222" stroke-width="1"/>
<text x="81.10" y="528.70" font-size="8.2" text-anchor="middle" fill="#222" textLength="38.8" lengthAdjust="spacingAndGlyphs">Specimen 1</text>
<text x="135.00" y="528.70" font-size="8.2" text-anchor="middle" fill="#222" textLength="38.8" lengthAdjust="spacingAndGlyphs">Specimen 2</text>
<text x="188.40" y="528.70" font-size="8.2" text-anchor="middle" fill="#222" textLength="38.8" lengthAdjust="spacingAndGlyphs">Specimen 3</text>
<text x="135.10" y="387.80" font-size="9.8" text-anchor="middle" fill="#222" textLength="33.8" lengthAdjust="spacingAndGlyphs">Cysteine</text>
<text transform="translate(15.0,455.0) rotate(-90)" font-size="9" text-anchor="middle" fill="#222" textLength="55" lengthAdjust="spacingAndGlyphs">Intensity (AU)</text>
<line x1="272.40" y1="394.00" x2="272.40" y2="515.60" stroke="#222" stroke-width="1.2"/>
<line x1="271.80" y1="515.10" x2="427.70" y2="515.10" stroke="#222" stroke-width="1.2"/>
<line x1="269.40" y1="515.10" x2="272.40" y2="515.10" stroke="#222" stroke-width="1"/>
<text x="262.77" y="517.89" font-size="7.80" fill="#222" textLength="3.99" lengthAdjust="spacingAndGlyphs" >0</text>
<line x1="269.40" y1="491.26" x2="272.40" y2="491.26" stroke="#222" stroke-width="1"/>
<text x="242.82" y="494.05" font-size="7.80" fill="#222" textLength="23.95" lengthAdjust="spacingAndGlyphs" >500000</text>
<line x1="269.40" y1="467.42" x2="272.40" y2="467.42" stroke="#222" stroke-width="1"/>
<text x="238.84" y="470.21" font-size="7.80" fill="#222" textLength="27.94" lengthAdjust="spacingAndGlyphs" >1000000</text>
<line x1="269.40" y1="443.58" x2="272.40" y2="443.58" stroke="#222" stroke-width="1"/>
<text x="238.84" y="446.37" font-size="7.80" fill="#222" textLength="27.94" lengthAdjust="spacingAndGlyphs" >1500000</text>
<line x1="269.40" y1="419.74" x2="272.40" y2="419.74" stroke="#222" stroke-width="1"/>
<text x="238.84" y="422.53" font-size="7.80" fill="#222" textLength="27.94" lengthAdjust="spacingAndGlyphs" >2000000</text>
<line x1="269.40" y1="395.90" x2="272.40" y2="395.90" stroke="#222" stroke-width="1"/>
<text x="238.84" y="398.69" font-size="7.80" fill="#222" textLength="27.94" lengthAdjust="spacingAndGlyphs" >2500000</text>
<rect x="280.30" y="484.30" width="11.60" height="30.80" fill="#4e6480"/>
<line x1="286.10" y1="484.30" x2="286.10" y2="474.10" stroke="#4e6480" stroke-width="1"/>
<line x1="282.85" y1="474.10" x2="289.35" y2="474.10" stroke="#4e6480" stroke-width="1"/>
<rect x="300.30" y="511.50" width="11.80" height="3.60" fill="#a03544"/>
<line x1="306.20" y1="511.50" x2="306.20" y2="509.30" stroke="#a03544" stroke-width="1"/>
<line x1="302.95" y1="509.30" x2="309.45" y2="509.30" stroke="#a03544" stroke-width="1"/>
<rect x="333.80" y="404.00" width="12.30" height="111.10" fill="#4e6480"/>
<line x1="339.95" y1="404.00" x2="339.95" y2="402.40" stroke="#4e6480" stroke-width="1"/>
<line x1="336.70" y1="402.40" x2="343.20" y2="402.40" stroke="#4e6480" stroke-width="1"/>
<rect x="353.90" y="445.20" width="12.30" height="69.90" fill="#a03544"/>
<line x1="360.05" y1="445.20" x2="360.05" y2="428.80" stroke="#a03544" stroke-width="1"/>
<line x1="356.80" y1="428.80" x2="363.30" y2="428.80" stroke="#a03544" stroke-width="1"/>
<rect x="388.00" y="468.20" width="12.10" height="46.90" fill="#4e6480"/>
<line x1="394.05" y1="468.20" x2="394.05" y2="464.60" stroke="#4e6480" stroke-width="1"/>
<line x1="390.80" y1="464.60" x2="397.30" y2="464.60" stroke="#4e6480" stroke-width="1"/>
<rect x="408.10" y="503.30" width="12.10" height="11.80" fill="#a03544"/>
<line x1="414.15" y1="503.30" x2="414.15" y2="499.70" stroke="#a03544" stroke-width="1"/>
<line x1="410.90" y1="499.70" x2="417.40" y2="499.70" stroke="#a03544" stroke-width="1"/>
<line x1="284.40" y1="469.10" x2="311.00" y2="469.10" stroke="#333" stroke-width="1.1"/>
<circle cx="296.14" cy="466.20" r="1.08" fill="#2a2a2a"/>
<circle cx="299.26" cy="466.20" r="1.08" fill="#2a2a2a"/>
<line x1="336.20" y1="399.70" x2="362.90" y2="399.70" stroke="#333" stroke-width="1.1"/>
<circle cx="344.82" cy="396.80" r="1.08" fill="#2a2a2a"/>
<circle cx="347.94" cy="396.80" r="1.08" fill="#2a2a2a"/>
<circle cx="351.06" cy="396.80" r="1.08" fill="#2a2a2a"/>
<circle cx="354.18" cy="396.80" r="1.08" fill="#2a2a2a"/>
<line x1="390.70" y1="461.00" x2="417.60" y2="461.00" stroke="#333" stroke-width="1.1"/>
<circle cx="400.98" cy="458.10" r="1.08" fill="#2a2a2a"/>
<circle cx="404.10" cy="458.10" r="1.08" fill="#2a2a2a"/>
<circle cx="407.22" cy="458.10" r="1.08" fill="#2a2a2a"/>
<line x1="296.40" y1="515.10" x2="296.40" y2="518.30" stroke="#222" stroke-width="1"/>
<line x1="350.30" y1="515.10" x2="350.30" y2="518.30" stroke="#222" stroke-width="1"/>
<line x1="404.30" y1="515.10" x2="404.30" y2="518.30" stroke="#222" stroke-width="1"/>
<text x="296.10" y="528.50" font-size="8.2" text-anchor="middle" fill="#222" textLength="39.2" lengthAdjust="spacingAndGlyphs">Specimen 1</text>
<text x="350.40" y="528.50" font-size="8.2" text-anchor="middle" fill="#222" textLength="39.2" lengthAdjust="spacingAndGlyphs">Specimen 2</text>
<text x="404.20" y="528.50" font-size="8.2" text-anchor="middle" fill="#222" textLength="39.2" lengthAdjust="spacingAndGlyphs">Specimen 3</text>
<text x="350.65" y="387.80" font-size="9.8" text-anchor="middle" fill="#222" textLength="47.7" lengthAdjust="spacingAndGlyphs">Glutathione</text>
<text transform="translate(230.4,453.9) rotate(-90)" font-size="9" text-anchor="middle" fill="#222" textLength="54.5" lengthAdjust="spacingAndGlyphs">Intensity (AU)</text>
<path d="M23.60,611.30 C24.28,611.13 26.25,610.98 27.70,610.30 C29.15,609.62 31.02,608.35 32.30,607.20 C33.58,606.05 34.50,605.18 35.40,603.40 C36.30,601.62 36.93,599.20 37.70,596.50 C38.47,593.80 39.23,591.05 40.00,587.20 C40.77,583.35 41.67,576.68 42.30,573.40 C42.93,570.12 43.15,568.48 43.80,567.50 C44.45,566.52 45.42,567.28 46.20,567.50 C46.98,567.72 47.87,567.95 48.50,568.80 C49.13,569.65 49.50,570.82 50.00,572.60 C50.50,574.38 50.98,577.07 51.50,579.50 C52.02,581.93 52.58,584.63 53.10,587.20 C53.62,589.77 53.97,592.07 54.60,594.90 C55.23,597.73 56.00,601.68 56.90,604.20 C57.80,606.72 58.85,608.82 60.00,610.00 C61.15,611.18 57.70,611.08 63.80,611.30 C69.90,611.52 91.13,611.30 96.60,611.30 L96.60,611.3 L23.60,611.3 Z" fill="#c9d6ea" fill-opacity="0.6"/>
<path d="M23.60,611.30 C24.28,611.13 26.25,610.98 27.70,610.30 C29.15,609.62 31.02,608.35 32.30,607.20 C33.58,606.05 34.50,605.18 35.40,603.40 C36.30,601.62 36.93,599.20 37.70,596.50 C38.47,593.80 39.23,591.05 40.00,587.20 C40.77,583.35 41.67,576.68 42.30,573.40 C42.93,570.12 43.15,568.48 43.80,567.50 C44.45,566.52 45.42,567.28 46.20,567.50 C46.98,567.72 47.87,567.95 48.50,568.80 C49.13,569.65 49.50,570.82 50.00,572.60 C50.50,574.38 50.98,577.07 51.50,579.50 C52.02,581.93 52.58,584.63 53.10,587.20 C53.62,589.77 53.97,592.07 54.60,594.90 C55.23,597.73 56.00,601.68 56.90,604.20 C57.80,606.72 58.85,608.82 60.00,610.00 C61.15,611.18 57.70,611.08 63.80,611.30 C69.90,611.52 91.13,611.30 96.60,611.30" fill="none" stroke="#6fa6d6" stroke-width="1.1"/>
<path d="M36.90,634.20 C37.42,633.55 38.97,631.97 40.00,630.30 C41.03,628.63 42.07,626.25 43.10,624.20 C44.13,622.15 45.30,620.57 46.20,618.00 C47.10,615.43 47.73,611.62 48.50,608.80 C49.27,605.98 50.12,602.85 50.80,601.10 C51.48,599.35 52.03,598.77 52.60,598.30 C53.17,597.83 53.68,597.83 54.20,598.30 C54.72,598.77 55.12,599.10 55.70,601.10 C56.28,603.10 56.98,606.97 57.70,610.30 C58.42,613.63 59.10,617.77 60.00,621.10 C60.90,624.43 62.07,628.12 63.10,630.30 C64.13,632.48 65.68,633.55 66.20,634.20 L66.20,634.3 L36.90,634.3 Z" fill="#ebc2b6" fill-opacity="0.85"/>
<path d="M36.90,634.20 C37.42,633.55 38.97,631.97 40.00,630.30 C41.03,628.63 42.07,626.25 43.10,624.20 C44.13,622.15 45.30,620.57 46.20,618.00 C47.10,615.43 47.73,611.62 48.50,608.80 C49.27,605.98 50.12,602.85 50.80,601.10 C51.48,599.35 52.03,598.77 52.60,598.30 C53.17,597.83 53.68,597.83 54.20,598.30 C54.72,598.77 55.12,599.10 55.70,601.10 C56.28,603.10 56.98,606.97 57.70,610.30 C58.42,613.63 59.10,617.77 60.00,621.10 C60.90,624.43 62.07,628.12 63.10,630.30 C64.13,632.48 65.68,633.55 66.20,634.20" fill="none" stroke="#b02c40" stroke-width="1.2"/>
<line x1="23.20" y1="633.70" x2="97.20" y2="633.70" stroke="#b02c40" stroke-width="0.8"/>
<rect x="23.20" y="561.00" width="74.00" height="73.30" fill="none" stroke="#1a1a1a" stroke-width="1.2"/>
<line x1="36.49" y1="634.30" x2="36.49" y2="635.70" stroke="#333" stroke-width="0.6"/>
<line x1="39.29" y1="634.30" x2="39.29" y2="635.70" stroke="#8a2a38" stroke-width="0.6"/>
<line x1="41.27" y1="634.30" x2="41.27" y2="635.70" stroke="#333" stroke-width="0.6"/>
<line x1="42.81" y1="634.30" x2="42.81" y2="635.70" stroke="#8a2a38" stroke-width="0.6"/>
<line x1="44.07" y1="634.30" x2="44.07" y2="635.70" stroke="#333" stroke-width="0.6"/>
<line x1="45.14" y1="634.30" x2="45.14" y2="635.70" stroke="#8a2a38" stroke-width="0.6"/>
<line x1="46.06" y1="634.30" x2="46.06" y2="635.70" stroke="#333" stroke-width="0.6"/>
<line x1="46.87" y1="634.30" x2="46.87" y2="635.70" stroke="#8a2a38" stroke-width="0.6"/>
<line x1="52.51" y1="634.30" x2="52.51" y2="635.70" stroke="#333" stroke-width="0.6"/>
<line x1="55.38" y1="634.30" x2="55.38" y2="635.70" stroke="#8a2a38" stroke-width="0.6"/>
<line x1="57.41" y1="634.30" x2="57.41" y2="635.70" stroke="#333" stroke-width="0.6"/>
<line x1="58.99" y1="634.30" x2="58.99" y2="635.70" stroke="#8a2a38" stroke-width="0.6"/>
<line x1="60.28" y1="634.30" x2="60.28" y2="635.70" stroke="#333" stroke-width="0.6"/>
<line x1="61.38" y1="634.30" x2="61.38" y2="635.70" stroke="#8a2a38" stroke-width="0.6"/>
<line x1="62.32" y1="634.30" x2="62.32" y2="635.70" stroke="#333" stroke-width="0.6"/>
<line x1="63.15" y1="634.30" x2="63.15" y2="635.70" stroke="#8a2a38" stroke-width="0.6"/>
<line x1="68.75" y1="634.30" x2="68.75" y2="635.70" stroke="#333" stroke-width="0.6"/>
<line x1="71.58" y1="634.30" x2="71.58" y2="635.70" stroke="#8a2a38" stroke-width="0.6"/>
<line x1="73.59" y1="634.30" x2="73.59" y2="635.70" stroke="#333" stroke-width="0.6"/>
<line x1="75.15" y1="634.30" x2="75.15" y2="635.70" stroke="#8a2a38" stroke-width="0.6"/>
<line x1="76.43" y1="634.30" x2="76.43" y2="635.70" stroke="#333" stroke-width="0.6"/>
<line x1="77.51" y1="634.30" x2="77.51" y2="635.70" stroke="#8a2a38" stroke-width="0.6"/>
<line x1="78.44" y1="634.30" x2="78.44" y2="635.70" stroke="#333" stroke-width="0.6"/>
<line x1="79.26" y1="634.30" x2="79.26" y2="635.70" stroke="#8a2a38" stroke-width="0.6"/>
<line x1="84.91" y1="634.30" x2="84.91" y2="635.70" stroke="#333" stroke-width="0.6"/>
<line x1="87.78" y1="634.30" x2="87.78" y2="635.70" stroke="#8a2a38" stroke-width="0.6"/>
<line x1="89.81" y1="634.30" x2="89.81" y2="635.70" stroke="#333" stroke-width="0.6"/>
<line x1="91.39" y1="634.30" x2="91.39" y2="635.70" stroke="#8a2a38" stroke-width="0.6"/>
<line x1="92.68" y1="634.30" x2="92.68" y2="635.70" stroke="#333" stroke-width="0.6"/>
<line x1="93.78" y1="634.30" x2="93.78" y2="635.70" stroke="#8a2a38" stroke-width="0.6"/>
<line x1="94.72" y1="634.30" x2="94.72" y2="635.70" stroke="#333" stroke-width="0.6"/>
<line x1="95.55" y1="634.30" x2="95.55" y2="635.70" stroke="#8a2a38" stroke-width="0.6"/>
<line x1="31.70" y1="634.30" x2="31.70" y2="636.10" stroke="#222" stroke-width="0.8"/>
<text x="31.10" y="646.30" font-size="5.9" text-anchor="middle" fill="#3a3a3a" >10<tspan font-size="3.8" dy="-2.6">2</tspan></text>
<line x1="47.60" y1="634.30" x2="47.60" y2="636.10" stroke="#222" stroke-width="0.8"/>
<text x="47.00" y="646.30" font-size="5.9" text-anchor="middle" fill="#3a3a3a" >10<tspan font-size="3.8" dy="-2.6">3</tspan></text>
<line x1="63.90" y1="634.30" x2="63.90" y2="636.10" stroke="#222" stroke-width="0.8"/>
<text x="63.30" y="646.30" font-size="5.9" text-anchor="middle" fill="#3a3a3a" >10<tspan font-size="3.8" dy="-2.6">4</tspan></text>
<line x1="80.00" y1="634.30" x2="80.00" y2="636.10" stroke="#222" stroke-width="0.8"/>
<text x="79.40" y="646.30" font-size="5.9" text-anchor="middle" fill="#3a3a3a" >10<tspan font-size="3.8" dy="-2.6">5</tspan></text>
<line x1="96.30" y1="634.30" x2="96.30" y2="636.10" stroke="#222" stroke-width="0.8"/>
<text x="95.70" y="646.30" font-size="5.9" text-anchor="middle" fill="#3a3a3a" >10<tspan font-size="3.8" dy="-2.6">6</tspan></text>
<text x="60.30" y="555.70" font-size="9.2" text-anchor="middle" fill="#222" textLength="28.4" lengthAdjust="spacingAndGlyphs">Cell ROX</text>
<path d="M112.40,611.30 C113.47,611.13 116.97,611.10 118.80,610.30 C120.63,609.50 122.00,608.17 123.40,606.50 C124.80,604.83 126.30,601.85 127.20,600.30 C128.10,598.75 128.15,598.10 128.80,597.20 C129.45,596.30 130.33,595.92 131.10,594.90 C131.87,593.88 132.63,593.40 133.40,591.10 C134.17,588.80 134.93,583.80 135.70,581.10 C136.47,578.40 137.37,576.12 138.00,574.90 C138.63,573.68 138.98,573.53 139.50,573.80 C140.02,574.07 140.58,575.55 141.10,576.50 C141.62,577.45 142.08,577.45 142.60,579.50 C143.12,581.55 143.68,585.47 144.20,588.80 C144.72,592.13 145.12,596.48 145.70,599.50 C146.28,602.52 146.80,605.15 147.70,606.90 C148.60,608.65 149.25,609.28 151.10,610.00 C152.95,610.72 153.17,610.98 158.80,611.20 C164.43,611.42 180.55,611.28 184.90,611.30 L184.90,611.3 L112.40,611.3 Z" fill="#c9d6ea" fill-opacity="0.6"/>
<path d="M112.40,611.30 C113.47,611.13 116.97,611.10 118.80,610.30 C120.63,609.50 122.00,608.17 123.40,606.50 C124.80,604.83 126.30,601.85 127.20,600.30 C128.10,598.75 128.15,598.10 128.80,597.20 C129.45,596.30 130.33,595.92 131.10,594.90 C131.87,593.88 132.63,593.40 133.40,591.10 C134.17,588.80 134.93,583.80 135.70,581.10 C136.47,578.40 137.37,576.12 138.00,574.90 C138.63,573.68 138.98,573.53 139.50,573.80 C140.02,574.07 140.58,575.55 141.10,576.50 C141.62,577.45 142.08,577.45 142.60,579.50 C143.12,581.55 143.68,585.47 144.20,588.80 C144.72,592.13 145.12,596.48 145.70,599.50 C146.28,602.52 146.80,605.15 147.70,606.90 C148.60,608.65 149.25,609.28 151.10,610.00 C152.95,610.72 153.17,610.98 158.80,611.20 C164.43,611.42 180.55,611.28 184.90,611.30" fill="none" stroke="#6fa6d6" stroke-width="1.1"/>
<path d="M124.20,634.20 C124.83,633.55 126.85,632.23 128.00,630.30 C129.15,628.37 130.20,625.42 131.10,622.60 C132.00,619.78 132.63,617.50 133.40,613.40 C134.17,609.30 135.07,601.72 135.70,598.00 C136.33,594.28 136.73,592.47 137.20,591.10 C137.67,589.73 138.12,589.68 138.50,589.80 C138.88,589.92 139.07,589.40 139.50,591.80 C139.93,594.20 140.50,599.58 141.10,604.20 C141.70,608.82 142.33,615.15 143.10,619.50 C143.87,623.85 144.75,627.85 145.70,630.30 C146.65,632.75 148.28,633.55 148.80,634.20 L148.80,634.3 L124.20,634.3 Z" fill="#ebc2b6" fill-opacity="0.85"/>
<path d="M124.20,634.20 C124.83,633.55 126.85,632.23 128.00,630.30 C129.15,628.37 130.20,625.42 131.10,622.60 C132.00,619.78 132.63,617.50 133.40,613.40 C134.17,609.30 135.07,601.72 135.70,598.00 C136.33,594.28 136.73,592.47 137.20,591.10 C137.67,589.73 138.12,589.68 138.50,589.80 C138.88,589.92 139.07,589.40 139.50,591.80 C139.93,594.20 140.50,599.58 141.10,604.20 C141.70,608.82 142.33,615.15 143.10,619.50 C143.87,623.85 144.75,627.85 145.70,630.30 C146.65,632.75 148.28,633.55 148.80,634.20" fill="none" stroke="#b02c40" stroke-width="1.2"/>
<line x1="111.90" y1="633.70" x2="185.50" y2="633.70" stroke="#b02c40" stroke-width="0.8"/>
<rect x="111.90" y="561.00" width="73.60" height="73.30" fill="none" stroke="#1a1a1a" stroke-width="1.2"/>
<line x1="119.33" y1="634.30" x2="119.33" y2="635.70" stroke="#333" stroke-width="0.6"/>
<line x1="122.98" y1="634.30" x2="122.98" y2="635.70" stroke="#8a2a38" stroke-width="0.6"/>
<line x1="125.56" y1="634.30" x2="125.56" y2="635.70" stroke="#333" stroke-width="0.6"/>
<line x1="127.57" y1="634.30" x2="127.57" y2="635.70" stroke="#8a2a38" stroke-width="0.6"/>
<line x1="129.21" y1="634.30" x2="129.21" y2="635.70" stroke="#333" stroke-width="0.6"/>
<line x1="130.59" y1="634.30" x2="130.59" y2="635.70" stroke="#8a2a38" stroke-width="0.6"/>
<line x1="131.79" y1="634.30" x2="131.79" y2="635.70" stroke="#333" stroke-width="0.6"/>
<line x1="132.85" y1="634.30" x2="132.85" y2="635.70" stroke="#8a2a38" stroke-width="0.6"/>
<line x1="140.06" y1="634.30" x2="140.06" y2="635.70" stroke="#333" stroke-width="0.6"/>
<line x1="143.72" y1="634.30" x2="143.72" y2="635.70" stroke="#8a2a38" stroke-width="0.6"/>
<line x1="146.32" y1="634.30" x2="146.32" y2="635.70" stroke="#333" stroke-width="0.6"/>
<line x1="148.34" y1="634.30" x2="148.34" y2="635.70" stroke="#8a2a38" stroke-width="0.6"/>
<line x1="149.99" y1="634.30" x2="149.99" y2="635.70" stroke="#333" stroke-width="0.6"/>
<line x1="151.38" y1="634.30" x2="151.38" y2="635.70" stroke="#8a2a38" stroke-width="0.6"/>
<line x1="152.58" y1="634.30" x2="152.58" y2="635.70" stroke="#333" stroke-width="0.6"/>
<line x1="153.65" y1="634.30" x2="153.65" y2="635.70" stroke="#8a2a38" stroke-width="0.6"/>
<line x1="160.95" y1="634.30" x2="160.95" y2="635.70" stroke="#333" stroke-width="0.6"/>
<line x1="164.67" y1="634.30" x2="164.67" y2="635.70" stroke="#8a2a38" stroke-width="0.6"/>
<line x1="167.30" y1="634.30" x2="167.30" y2="635.70" stroke="#333" stroke-width="0.6"/>
<line x1="169.35" y1="634.30" x2="169.35" y2="635.70" stroke="#8a2a38" stroke-width="0.6"/>
<line x1="171.02" y1="634.30" x2="171.02" y2="635.70" stroke="#333" stroke-width="0.6"/>
<line x1="172.43" y1="634.30" x2="172.43" y2="635.70" stroke="#8a2a38" stroke-width="0.6"/>
<line x1="173.66" y1="634.30" x2="173.66" y2="635.70" stroke="#333" stroke-width="0.6"/>
<line x1="174.73" y1="634.30" x2="174.73" y2="635.70" stroke="#8a2a38" stroke-width="0.6"/>
<line x1="113.10" y1="634.30" x2="113.10" y2="636.10" stroke="#222" stroke-width="0.8"/>
<text x="112.50" y="646.30" font-size="5.9" text-anchor="middle" fill="#3a3a3a" >10<tspan font-size="3.8" dy="-2.6">2</tspan></text>
<line x1="133.80" y1="634.30" x2="133.80" y2="636.10" stroke="#222" stroke-width="0.8"/>
<text x="133.20" y="646.30" font-size="5.9" text-anchor="middle" fill="#3a3a3a" >10<tspan font-size="3.8" dy="-2.6">3</tspan></text>
<line x1="154.60" y1="634.30" x2="154.60" y2="636.10" stroke="#222" stroke-width="0.8"/>
<text x="154.00" y="646.30" font-size="5.9" text-anchor="middle" fill="#3a3a3a" >10<tspan font-size="3.8" dy="-2.6">4</tspan></text>
<line x1="175.70" y1="634.30" x2="175.70" y2="636.10" stroke="#222" stroke-width="0.8"/>
<text x="175.10" y="646.30" font-size="5.9" text-anchor="middle" fill="#3a3a3a" >10<tspan font-size="3.8" dy="-2.6">5</tspan></text>
<text x="148.60" y="555.70" font-size="9.2" text-anchor="middle" fill="#222" textLength="13.5" lengthAdjust="spacingAndGlyphs">DCF</text>
<path d="M196.40,611.10 C197.72,610.97 201.95,610.68 204.30,610.30 C206.65,609.92 208.70,609.37 210.50,608.80 C212.30,608.23 213.70,607.67 215.10,606.90 C216.50,606.13 217.88,605.17 218.90,604.20 C219.92,603.23 220.68,602.65 221.20,601.10 C221.72,599.55 221.73,596.18 222.00,594.90 C222.27,593.62 222.47,593.40 222.80,593.40 C223.13,593.40 223.62,595.28 224.00,594.90 C224.38,594.52 224.53,593.15 225.10,591.10 C225.67,589.05 226.63,585.30 227.40,582.60 C228.17,579.90 228.98,577.25 229.70,574.90 C230.42,572.55 231.07,569.90 231.70,568.50 C232.33,567.10 232.93,566.45 233.50,566.50 C234.07,566.55 234.58,567.40 235.10,568.80 C235.62,570.20 236.08,571.57 236.60,574.90 C237.12,578.23 237.68,584.18 238.20,588.80 C238.72,593.42 239.07,599.07 239.70,602.60 C240.33,606.13 241.23,608.58 242.00,610.00 C242.77,611.42 239.75,610.92 244.30,611.10 C248.85,611.28 265.13,611.10 269.30,611.10 L269.30,611.3 L196.40,611.3 Z" fill="#c9d6ea" fill-opacity="0.6"/>
<path d="M196.40,611.10 C197.72,610.97 201.95,610.68 204.30,610.30 C206.65,609.92 208.70,609.37 210.50,608.80 C212.30,608.23 213.70,607.67 215.10,606.90 C216.50,606.13 217.88,605.17 218.90,604.20 C219.92,603.23 220.68,602.65 221.20,601.10 C221.72,599.55 221.73,596.18 222.00,594.90 C222.27,593.62 222.47,593.40 222.80,593.40 C223.13,593.40 223.62,595.28 224.00,594.90 C224.38,594.52 224.53,593.15 225.10,591.10 C225.67,589.05 226.63,585.30 227.40,582.60 C228.17,579.90 228.98,577.25 229.70,574.90 C230.42,572.55 231.07,569.90 231.70,568.50 C232.33,567.10 232.93,566.45 233.50,566.50 C234.07,566.55 234.58,567.40 235.10,568.80 C235.62,570.20 236.08,571.57 236.60,574.90 C237.12,578.23 237.68,584.18 238.20,588.80 C238.72,593.42 239.07,599.07 239.70,602.60 C240.33,606.13 241.23,608.58 242.00,610.00 C242.77,611.42 239.75,610.92 244.30,611.10 C248.85,611.28 265.13,611.10 269.30,611.10" fill="none" stroke="#6fa6d6" stroke-width="1.1"/>
<path d="M213.50,634.20 C214.40,633.80 217.35,632.97 218.90,631.80 C220.45,630.63 221.65,628.73 222.80,627.20 C223.95,625.67 224.78,624.65 225.80,622.60 C226.82,620.55 228.00,618.23 228.90,614.90 C229.80,611.57 230.43,606.32 231.20,602.60 C231.97,598.88 232.80,594.65 233.50,592.60 C234.20,590.55 234.83,590.30 235.40,590.30 C235.97,590.30 236.32,590.28 236.90,592.60 C237.48,594.92 238.23,599.72 238.90,604.20 C239.57,608.68 240.25,615.15 240.90,619.50 C241.55,623.85 242.28,627.85 242.80,630.30 C243.32,632.75 243.80,633.55 244.00,634.20 L244.00,634.3 L213.50,634.3 Z" fill="#ebc2b6" fill-opacity="0.85"/>
<path d="M213.50,634.20 C214.40,633.80 217.35,632.97 218.90,631.80 C220.45,630.63 221.65,628.73 222.80,627.20 C223.95,625.67 224.78,624.65 225.80,622.60 C226.82,620.55 228.00,618.23 228.90,614.90 C229.80,611.57 230.43,606.32 231.20,602.60 C231.97,598.88 232.80,594.65 233.50,592.60 C234.20,590.55 234.83,590.30 235.40,590.30 C235.97,590.30 236.32,590.28 236.90,592.60 C237.48,594.92 238.23,599.72 238.90,604.20 C239.57,608.68 240.25,615.15 240.90,619.50 C241.55,623.85 242.28,627.85 242.80,630.30 C243.32,632.75 243.80,633.55 244.00,634.20" fill="none" stroke="#b02c40" stroke-width="1.2"/>
<line x1="196.20" y1="562.00" x2="196.20" y2="611.30" stroke="#6fa6d6" stroke-width="0.9"/>
<line x1="196.20" y1="588.00" x2="196.20" y2="634.30" stroke="#b02c40" stroke-width="0.9"/>
<line x1="195.90" y1="633.70" x2="269.90" y2="633.70" stroke="#b02c40" stroke-width="0.8"/>
<rect x="195.90" y="561.00" width="74.00" height="73.30" fill="none" stroke="#1a1a1a" stroke-width="1.2"/>
<line x1="200.63" y1="634.30" x2="200.63" y2="635.70" stroke="#333" stroke-width="0.6"/>
<line x1="203.17" y1="634.30" x2="203.17" y2="635.70" stroke="#8a2a38" stroke-width="0.6"/>
<line x1="204.97" y1="634.30" x2="204.97" y2="635.70" stroke="#333" stroke-width="0.6"/>
<line x1="206.37" y1="634.30" x2="206.37" y2="635.70" stroke="#8a2a38" stroke-width="0.6"/>
<line x1="207.51" y1="634.30" x2="207.51" y2="635.70" stroke="#333" stroke-width="0.6"/>
<line x1="208.47" y1="634.30" x2="208.47" y2="635.70" stroke="#8a2a38" stroke-width="0.6"/>
<line x1="209.30" y1="634.30" x2="209.30" y2="635.70" stroke="#333" stroke-width="0.6"/>
<line x1="210.04" y1="634.30" x2="210.04" y2="635.70" stroke="#8a2a38" stroke-width="0.6"/>
<line x1="214.97" y1="634.30" x2="214.97" y2="635.70" stroke="#333" stroke-width="0.6"/>
<line x1="217.48" y1="634.30" x2="217.48" y2="635.70" stroke="#8a2a38" stroke-width="0.6"/>
<line x1="219.25" y1="634.30" x2="219.25" y2="635.70" stroke="#333" stroke-width="0.6"/>
<line x1="220.63" y1="634.30" x2="220.63" y2="635.70" stroke="#8a2a38" stroke-width="0.6"/>
<line x1="221.75" y1="634.30" x2="221.75" y2="635.70" stroke="#333" stroke-width="0.6"/>
<line x1="222.70" y1="634.30" x2="222.70" y2="635.70" stroke="#8a2a38" stroke-width="0.6"/>
<line x1="223.52" y1="634.30" x2="223.52" y2="635.70" stroke="#333" stroke-width="0.6"/>
<line x1="224.25" y1="634.30" x2="224.25" y2="635.70" stroke="#8a2a38" stroke-width="0.6"/>
<line x1="229.36" y1="634.30" x2="229.36" y2="635.70" stroke="#333" stroke-width="0.6"/>
<line x1="231.96" y1="634.30" x2="231.96" y2="635.70" stroke="#8a2a38" stroke-width="0.6"/>
<line x1="233.81" y1="634.30" x2="233.81" y2="635.70" stroke="#333" stroke-width="0.6"/>
<line x1="235.24" y1="634.30" x2="235.24" y2="635.70" stroke="#8a2a38" stroke-width="0.6"/>
<line x1="236.42" y1="634.30" x2="236.42" y2="635.70" stroke="#333" stroke-width="0.6"/>
<line x1="237.41" y1="634.30" x2="237.41" y2="635.70" stroke="#8a2a38" stroke-width="0.6"/>
<line x1="238.27" y1="634.30" x2="238.27" y2="635.70" stroke="#333" stroke-width="0.6"/>
<line x1="239.02" y1="634.30" x2="239.02" y2="635.70" stroke="#8a2a38" stroke-width="0.6"/>
<line x1="244.16" y1="634.30" x2="244.16" y2="635.70" stroke="#333" stroke-width="0.6"/>
<line x1="246.76" y1="634.30" x2="246.76" y2="635.70" stroke="#8a2a38" stroke-width="0.6"/>
<line x1="248.61" y1="634.30" x2="248.61" y2="635.70" stroke="#333" stroke-width="0.6"/>
<line x1="250.04" y1="634.30" x2="250.04" y2="635.70" stroke="#8a2a38" stroke-width="0.6"/>
<line x1="251.22" y1="634.30" x2="251.22" y2="635.70" stroke="#333" stroke-width="0.6"/>
<line x1="252.21" y1="634.30" x2="252.21" y2="635.70" stroke="#8a2a38" stroke-width="0.6"/>
<line x1="253.07" y1="634.30" x2="253.07" y2="635.70" stroke="#333" stroke-width="0.6"/>
<line x1="253.82" y1="634.30" x2="253.82" y2="635.70" stroke="#8a2a38" stroke-width="0.6"/>
<line x1="258.96" y1="634.30" x2="258.96" y2="635.70" stroke="#333" stroke-width="0.6"/>
<line x1="261.56" y1="634.30" x2="261.56" y2="635.70" stroke="#8a2a38" stroke-width="0.6"/>
<line x1="263.41" y1="634.30" x2="263.41" y2="635.70" stroke="#333" stroke-width="0.6"/>
<line x1="264.84" y1="634.30" x2="264.84" y2="635.70" stroke="#8a2a38" stroke-width="0.6"/>
<line x1="266.02" y1="634.30" x2="266.02" y2="635.70" stroke="#333" stroke-width="0.6"/>
<line x1="267.01" y1="634.30" x2="267.01" y2="635.70" stroke="#8a2a38" stroke-width="0.6"/>
<line x1="267.87" y1="634.30" x2="267.87" y2="635.70" stroke="#333" stroke-width="0.6"/>
<line x1="268.62" y1="634.30" x2="268.62" y2="635.70" stroke="#8a2a38" stroke-width="0.6"/>
<line x1="196.30" y1="634.30" x2="196.30" y2="636.10" stroke="#222" stroke-width="0.8"/>
<text x="195.70" y="646.30" font-size="5.9" text-anchor="middle" fill="#3a3a3a" >10<tspan font-size="3.8" dy="-2.6">0</tspan></text>
<line x1="210.70" y1="634.30" x2="210.70" y2="636.10" stroke="#222" stroke-width="0.8"/>
<text x="210.10" y="646.30" font-size="5.9" text-anchor="middle" fill="#3a3a3a" >10<tspan font-size="3.8" dy="-2.6">1</tspan></text>
<line x1="224.90" y1="634.30" x2="224.90" y2="636.10" stroke="#222" stroke-width="0.8"/>
<text x="224.30" y="646.30" font-size="5.9" text-anchor="middle" fill="#3a3a3a" >10<tspan font-size="3.8" dy="-2.6">2</tspan></text>
<line x1="239.70" y1="634.30" x2="239.70" y2="636.10" stroke="#222" stroke-width="0.8"/>
<text x="239.10" y="646.30" font-size="5.9" text-anchor="middle" fill="#3a3a3a" >10<tspan font-size="3.8" dy="-2.6">3</tspan></text>
<line x1="254.50" y1="634.30" x2="254.50" y2="636.10" stroke="#222" stroke-width="0.8"/>
<text x="253.90" y="646.30" font-size="5.9" text-anchor="middle" fill="#3a3a3a" >10<tspan font-size="3.8" dy="-2.6">4</tspan></text>
<line x1="269.30" y1="634.30" x2="269.30" y2="636.10" stroke="#222" stroke-width="0.8"/>
<text x="268.70" y="646.30" font-size="5.9" text-anchor="middle" fill="#3a3a3a" >10<tspan font-size="3.8" dy="-2.6">5</tspan></text>
<text x="233.30" y="555.70" font-size="9.2" text-anchor="middle" fill="#222" textLength="30.7" lengthAdjust="spacingAndGlyphs">Mito SOX</text>
<path d="M285.00,611.10 C287.67,610.97 297.30,610.68 301.00,610.30 C304.70,609.92 305.40,609.57 307.20,608.80 C309.00,608.03 310.53,607.25 311.80,605.70 C313.07,604.15 313.90,602.32 314.80,599.50 C315.70,596.68 316.47,592.90 317.20,588.80 C317.93,584.70 318.62,578.62 319.20,574.90 C319.78,571.18 320.27,568.23 320.70,566.50 C321.13,564.77 321.45,564.38 321.80,564.50 C322.15,564.62 322.37,564.43 322.80,567.20 C323.23,569.97 323.93,576.22 324.40,581.10 C324.87,585.98 325.13,592.15 325.60,596.50 C326.07,600.85 326.55,604.85 327.20,607.20 C327.85,609.55 324.40,609.95 329.50,610.60 C334.60,611.25 353.08,611.02 357.80,611.10 L357.80,611.3 L285.00,611.3 Z" fill="#c9d6ea" fill-opacity="0.6"/>
<path d="M285.00,611.10 C287.67,610.97 297.30,610.68 301.00,610.30 C304.70,609.92 305.40,609.57 307.20,608.80 C309.00,608.03 310.53,607.25 311.80,605.70 C313.07,604.15 313.90,602.32 314.80,599.50 C315.70,596.68 316.47,592.90 317.20,588.80 C317.93,584.70 318.62,578.62 319.20,574.90 C319.78,571.18 320.27,568.23 320.70,566.50 C321.13,564.77 321.45,564.38 321.80,564.50 C322.15,564.62 322.37,564.43 322.80,567.20 C323.23,569.97 323.93,576.22 324.40,581.10 C324.87,585.98 325.13,592.15 325.60,596.50 C326.07,600.85 326.55,604.85 327.20,607.20 C327.85,609.55 324.40,609.95 329.50,610.60 C334.60,611.25 353.08,611.02 357.80,611.10" fill="none" stroke="#6fa6d6" stroke-width="1.1"/>
<path d="M308.70,634.20 C309.47,633.55 312.02,631.97 313.30,630.30 C314.58,628.63 315.50,627.02 316.40,624.20 C317.30,621.38 318.07,616.73 318.70,613.40 C319.33,610.07 319.68,606.20 320.20,604.20 C320.72,602.20 321.37,601.53 321.80,601.40 C322.23,601.27 322.42,601.40 322.80,603.40 C323.18,605.40 323.63,609.43 324.10,613.40 C324.57,617.37 325.15,623.73 325.60,627.20 C326.05,630.67 326.60,633.03 326.80,634.20 L326.80,634.3 L308.70,634.3 Z" fill="#ebc2b6" fill-opacity="0.85"/>
<path d="M308.70,634.20 C309.47,633.55 312.02,631.97 313.30,630.30 C314.58,628.63 315.50,627.02 316.40,624.20 C317.30,621.38 318.07,616.73 318.70,613.40 C319.33,610.07 319.68,606.20 320.20,604.20 C320.72,602.20 321.37,601.53 321.80,601.40 C322.23,601.27 322.42,601.40 322.80,603.40 C323.18,605.40 323.63,609.43 324.10,613.40 C324.57,617.37 325.15,623.73 325.60,627.20 C326.05,630.67 326.60,633.03 326.80,634.20" fill="none" stroke="#b02c40" stroke-width="1.2"/>
<line x1="284.80" y1="562.00" x2="284.80" y2="611.30" stroke="#6fa6d6" stroke-width="0.9"/>
<line x1="284.80" y1="588.00" x2="284.80" y2="634.30" stroke="#b02c40" stroke-width="0.9"/>
<line x1="284.50" y1="633.70" x2="358.30" y2="633.70" stroke="#b02c40" stroke-width="0.8"/>
<rect x="284.50" y="561.00" width="73.80" height="73.30" fill="none" stroke="#1a1a1a" stroke-width="1.2"/>
<line x1="288.65" y1="634.30" x2="288.65" y2="635.70" stroke="#333" stroke-width="0.6"/>
<line x1="291.08" y1="634.30" x2="291.08" y2="635.70" stroke="#8a2a38" stroke-width="0.6"/>
<line x1="292.81" y1="634.30" x2="292.81" y2="635.70" stroke="#333" stroke-width="0.6"/>
<line x1="294.15" y1="634.30" x2="294.15" y2="635.70" stroke="#8a2a38" stroke-width="0.6"/>
<line x1="295.24" y1="634.30" x2="295.24" y2="635.70" stroke="#333" stroke-width="0.6"/>
<line x1="296.16" y1="634.30" x2="296.16" y2="635.70" stroke="#8a2a38" stroke-width="0.6"/>
<line x1="296.96" y1="634.30" x2="296.96" y2="635.70" stroke="#333" stroke-width="0.6"/>
<line x1="297.67" y1="634.30" x2="297.67" y2="635.70" stroke="#8a2a38" stroke-width="0.6"/>
<line x1="302.42" y1="634.30" x2="302.42" y2="635.70" stroke="#333" stroke-width="0.6"/>
<line x1="304.84" y1="634.30" x2="304.84" y2="635.70" stroke="#8a2a38" stroke-width="0.6"/>
<line x1="306.55" y1="634.30" x2="306.55" y2="635.70" stroke="#333" stroke-width="0.6"/>
<line x1="307.88" y1="634.30" x2="307.88" y2="635.70" stroke="#8a2a38" stroke-width="0.6"/>
<line x1="308.96" y1="634.30" x2="308.96" y2="635.70" stroke="#333" stroke-width="0.6"/>
<line x1="309.88" y1="634.30" x2="309.88" y2="635.70" stroke="#8a2a38" stroke-width="0.6"/>
<line x1="310.67" y1="634.30" x2="310.67" y2="635.70" stroke="#333" stroke-width="0.6"/>
<line x1="311.37" y1="634.30" x2="311.37" y2="635.70" stroke="#8a2a38" stroke-width="0.6"/>
<line x1="316.15" y1="634.30" x2="316.15" y2="635.70" stroke="#333" stroke-width="0.6"/>
<line x1="318.58" y1="634.30" x2="318.58" y2="635.70" stroke="#8a2a38" stroke-width="0.6"/>
<line x1="320.31" y1="634.30" x2="320.31" y2="635.70" stroke="#333" stroke-width="0.6"/>
<line x1="321.65" y1="634.30" x2="321.65" y2="635.70" stroke="#8a2a38" stroke-width="0.6"/>
<line x1="322.74" y1="634.30" x2="322.74" y2="635.70" stroke="#333" stroke-width="0.6"/>
<line x1="323.66" y1="634.30" x2="323.66" y2="635.70" stroke="#8a2a38" stroke-width="0.6"/>
<line x1="324.46" y1="634.30" x2="324.46" y2="635.70" stroke="#333" stroke-width="0.6"/>
<line x1="325.17" y1="634.30" x2="325.17" y2="635.70" stroke="#8a2a38" stroke-width="0.6"/>
<line x1="329.62" y1="634.30" x2="329.62" y2="635.70" stroke="#333" stroke-width="0.6"/>
<line x1="331.86" y1="634.30" x2="331.86" y2="635.70" stroke="#8a2a38" stroke-width="0.6"/>
<line x1="333.45" y1="634.30" x2="333.45" y2="635.70" stroke="#333" stroke-width="0.6"/>
<line x1="334.68" y1="634.30" x2="334.68" y2="635.70" stroke="#8a2a38" stroke-width="0.6"/>
<line x1="335.68" y1="634.30" x2="335.68" y2="635.70" stroke="#333" stroke-width="0.6"/>
<line x1="336.53" y1="634.30" x2="336.53" y2="635.70" stroke="#8a2a38" stroke-width="0.6"/>
<line x1="337.27" y1="634.30" x2="337.27" y2="635.70" stroke="#333" stroke-width="0.6"/>
<line x1="337.92" y1="634.30" x2="337.92" y2="635.70" stroke="#8a2a38" stroke-width="0.6"/>
<line x1="342.44" y1="634.30" x2="342.44" y2="635.70" stroke="#333" stroke-width="0.6"/>
<line x1="344.75" y1="634.30" x2="344.75" y2="635.70" stroke="#8a2a38" stroke-width="0.6"/>
<line x1="346.39" y1="634.30" x2="346.39" y2="635.70" stroke="#333" stroke-width="0.6"/>
<line x1="347.66" y1="634.30" x2="347.66" y2="635.70" stroke="#8a2a38" stroke-width="0.6"/>
<line x1="348.69" y1="634.30" x2="348.69" y2="635.70" stroke="#333" stroke-width="0.6"/>
<line x1="349.57" y1="634.30" x2="349.57" y2="635.70" stroke="#8a2a38" stroke-width="0.6"/>
<line x1="350.33" y1="634.30" x2="350.33" y2="635.70" stroke="#333" stroke-width="0.6"/>
<line x1="351.00" y1="634.30" x2="351.00" y2="635.70" stroke="#8a2a38" stroke-width="0.6"/>
<line x1="284.50" y1="634.30" x2="284.50" y2="636.10" stroke="#222" stroke-width="0.8"/>
<text x="283.90" y="646.30" font-size="5.9" text-anchor="middle" fill="#3a3a3a" >10<tspan font-size="3.8" dy="-2.6">0</tspan></text>
<line x1="298.30" y1="634.30" x2="298.30" y2="636.10" stroke="#222" stroke-width="0.8"/>
<text x="297.70" y="646.30" font-size="5.9" text-anchor="middle" fill="#3a3a3a" >10<tspan font-size="3.8" dy="-2.6">1</tspan></text>
<line x1="312.00" y1="634.30" x2="312.00" y2="636.10" stroke="#222" stroke-width="0.8"/>
<text x="311.40" y="646.30" font-size="5.9" text-anchor="middle" fill="#3a3a3a" >10<tspan font-size="3.8" dy="-2.6">2</tspan></text>
<line x1="325.80" y1="634.30" x2="325.80" y2="636.10" stroke="#222" stroke-width="0.8"/>
<text x="325.20" y="646.30" font-size="5.9" text-anchor="middle" fill="#3a3a3a" >10<tspan font-size="3.8" dy="-2.6">3</tspan></text>
<line x1="338.50" y1="634.30" x2="338.50" y2="636.10" stroke="#222" stroke-width="0.8"/>
<text x="337.90" y="646.30" font-size="5.9" text-anchor="middle" fill="#3a3a3a" >10<tspan font-size="3.8" dy="-2.6">4</tspan></text>
<line x1="351.60" y1="634.30" x2="351.60" y2="636.10" stroke="#222" stroke-width="0.8"/>
<text x="351.00" y="646.30" font-size="5.9" text-anchor="middle" fill="#3a3a3a" >10<tspan font-size="3.8" dy="-2.6">5</tspan></text>
<text x="321.50" y="555.70" font-size="9.2" text-anchor="middle" fill="#222" textLength="24.1" lengthAdjust="spacingAndGlyphs">MitoPY</text>
<line x1="25.70" y1="654.00" x2="346.50" y2="654.00" stroke="#222" stroke-width="1.6"/>
<polygon points="351.2,654.0 342.8,650.4 345.2,654.0 342.8,657.6" fill="#222"/>
<text x="361.40" y="590.80" font-size="8.6" text-anchor="start" fill="#222" textLength="35.4" lengthAdjust="spacingAndGlyphs">Cysteinase</text>
<text x="361.40" y="600.80" font-size="8.6" text-anchor="start" fill="#222" textLength="23.3" lengthAdjust="spacingAndGlyphs">125nM</text>
<text x="361.40" y="627.80" font-size="8.6" text-anchor="start" fill="#222" textLength="23.9" lengthAdjust="spacingAndGlyphs">Vehicle</text>
<text x="6.80" y="17.40" font-size="12" text-anchor="start" fill="#231f20" style="stroke-width:0">A</text>
<text x="257.80" y="17.80" font-size="12" text-anchor="start" fill="#231f20" style="stroke-width:0">B</text>
<text x="6.60" y="205.60" font-size="12" text-anchor="start" fill="#231f20" style="stroke-width:0">C</text>
<text x="7.00" y="387.00" font-size="12" text-anchor="start" fill="#231f20" style="stroke-width:0">D</text>
<text x="6.40" y="555.70" font-size="12" text-anchor="start" fill="#231f20" style="stroke-width:0">E</text>
</svg></div></body></html>
